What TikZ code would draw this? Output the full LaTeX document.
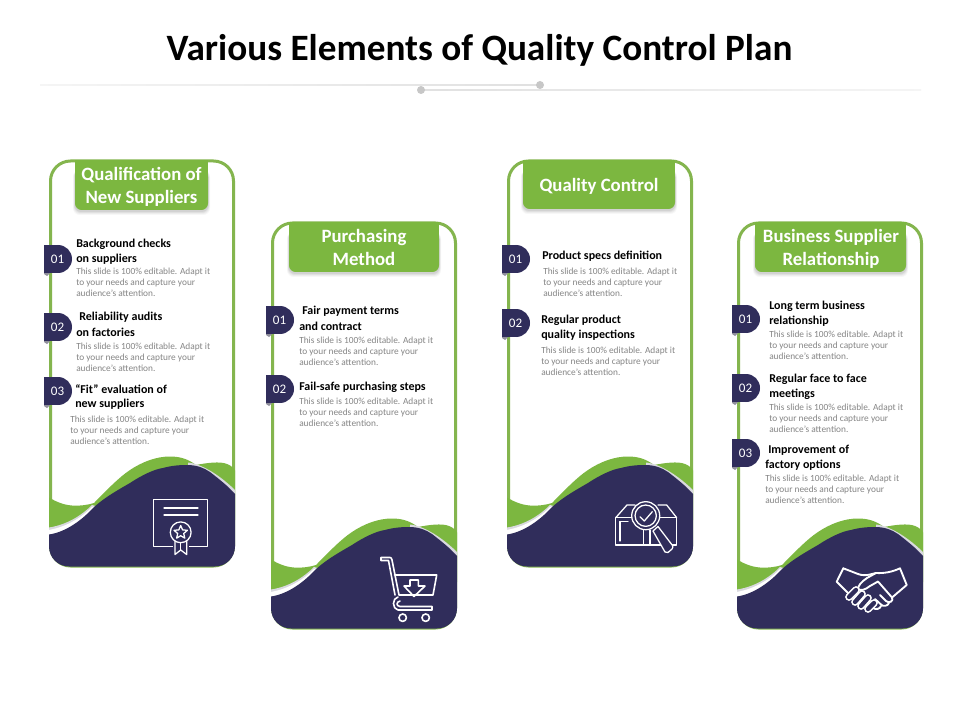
\documentclass[tikz,border=0pt]{standalone}
\usepackage{fontspec}
\setmainfont{Carlito}
\definecolor{cgreen}{HTML}{7CB740}
\definecolor{cborder}{HTML}{84B54E}
\definecolor{cnavy}{HTML}{302D5B}
\definecolor{cbody}{HTML}{858585}
\definecolor{cstripe}{HTML}{D9D9DF}
\newcounter{tn}
\tikzset{
  x=0.75pt,y=-0.75pt,
  headtext/.style={anchor=west,inner sep=0pt,font=\fontsize{9}{11}\selectfont\bfseries,text=black},
  bodytext/.style={anchor=west,inner sep=0pt,align=left,font=\fontsize{7}{8.25}\selectfont,text=cbody},
  tabtext/.style={inner sep=0pt,align=center,font=\fontsize{14.1}{17.25}\selectfont\bfseries,text=white},
  badgetext/.style={inner sep=0pt,font=\fontsize{9.8}{11}\selectfont,text=white},
  icon/.style={draw=white,line width=0.95pt,line join=round,line cap=round},
  iconfill/.style={icon,fill=cnavy},
}
\newcommand{\hdline}[3]{\stepcounter{tn}\node[headtext] (h\arabic{tn}) at (#1,#2+1) {#3};}
\newcommand{\bodyblock}[2]{\stepcounter{tn}\node[bodytext] (b\arabic{tn}) at (#1,#2+0.5) {This slide is 100\% editable. Adapt it\\to your needs and capture your\\audience's attention.};}
\newcommand{\badge}[3]{% x top label
  \stepcounter{tn}
  \fill[gray!60!cnavy!70] (#1,#2+27) -- (#1+7,#2+27) -- (#1+3,#2+31) -- (#1,#2+29) -- cycle;
  \fill[cnavy] (#1,#2) rectangle (#1+14,#2+28);
  \fill[cnavy] (#1+14,#2+14) circle [radius=10.5pt];
  \node[badgetext] (n\arabic{tn}) at (#1+13.5,#2+14) {#3};}
\newcommand{\cardshape}[2]{% dx dy
  \begin{scope}[shift={(#1,#2)}]
    \draw[cborder,line width=2.25pt,fill=white,rounded corners=15pt] (50.5,161) rectangle (233.5,566);
    \begin{scope}
      \clip[rounded corners=15pt] (49,150) rectangle (235,566.5);
      \fill[cgreen] (45,495) .. controls (54,501) and (63,505) .. (72,505.5)
        .. controls (80,506) and (88,505) .. (94,503)
        .. controls (105,492) and (118,478) .. (130,470)
        .. controls (142,462) and (156,456.5) .. (170,456.5)
        .. controls (180,456.5) and (188,459) .. (196,465)
        .. controls (206,463) and (220,461) .. (227,464)
        .. controls (231,465.5) and (234,468) .. (236,472)
        -- (236,520) -- (45,545) -- cycle;
      \fill[cstripe] (45,528) .. controls (66,526) and (82,515) .. (92,505)
        -- (96,506) -- (80,530) -- (45,540) -- cycle;
      \fill[white] (45,530.5) .. controls (66,528) and (82,517) .. (92,507)
        -- (96,506) -- (80,530) -- (45,540) -- cycle;
      \fill[cstripe] (188,462.5) .. controls (203,464) and (222,477) .. (236,491)
        -- (236,500) -- (188,470) -- cycle;
      \fill[cnavy] (45,535) -- (49,534.5) .. controls (66,532) and (82,520) .. (93,508)
        .. controls (105,497) and (118,490) .. (130,483)
        .. controls (142,475) and (155,469) .. (163,468)
        .. controls (172,465.5) and (180,465) .. (187,465)
        .. controls (197,465) and (204,468) .. (210,472)
        .. controls (219,479) and (228,486) .. (236,495)
        -- (236,570) -- (45,570) -- cycle;
    \end{scope}
  \end{scope}}
\newcommand{\tabshape}[4]{% x1 x2 y1 y2
  \foreach \g/\o in {4/0.03,3/0.04,2/0.05,1/0.06}{
    \fill[black,opacity=\o,rounded corners=5pt] (#1-\g/2,#3+10) rectangle (#2+\g/2,#4+1+\g);}
  \fill[cgreen,rounded corners=5pt] (#1,#3+10) rectangle (#2,#4);
  \fill[cgreen] (#1,#3) rectangle (#2,#3+20);
}
\begin{document}
\begin{tikzpicture}
\useasboundingbox (0,0) rectangle (960,720);
\fill[white] (0,0) rectangle (960,720);

% title
\node[inner sep=0pt,font=\fontsize{27.9}{32}\selectfont\bfseries,text=black] (title) at (479.5,50.5) {Various Elements of Quality Control Plan};
\shade[left color=black!4,right color=black!12] (40,84.6) rectangle (540,85.4);
\shade[left color=black!12,right color=black!4] (421,89.6) rectangle (921,90.4);
\fill[black!22] (540,85) circle [radius=3pt];
\fill[black!22] (421,90) circle [radius=3pt];

% cards
\cardshape{0}{0}
\cardshape{222}{62}
\cardshape{458}{0}
\cardshape{688}{62}

% tabs
\tabshape{75}{208}{160}{210}
\tabshape{289}{439}{222}{272}
\tabshape{523}{675}{160}{209}
\tabshape{755}{906}{222}{272}
\node[tabtext] (t1) at (141.5,187) {Qualification of\\New Suppliers};
\node[tabtext] (t2) at (364,247) {Purchasing\\Method};
\node[tabtext] (t3) at (599,186.5) {Quality Control};
\node[tabtext] (t4) at (831,249) {Business Supplier\\Relationship};

% card 1
\badge{44}{245}{01}\badge{44}{313}{02}\badge{44}{377}{03}
\hdline{76}{243}{Background checks}\hdline{76}{258}{on suppliers}\bodyblock{76}{282}
\hdline{79}{316}{Reliability audits}\hdline{76}{331}{on factories}\bodyblock{76}{357}
\hdline{75}{388}{“Fit” evaluation of}\hdline{75}{403}{new suppliers}\bodyblock{70}{430}
% card 2
\badge{266}{306}{01}\badge{266}{375}{02}
\hdline{302}{310}{Fair payment terms}\hdline{299}{325}{and contract}\bodyblock{299}{351}
\hdline{299}{386}{Fail-safe purchasing steps}\bodyblock{299}{412}
% card 3
\badge{502}{245}{01}\badge{502}{309}{02}
\hdline{542}{255}{Product specs definition}\bodyblock{543}{282}
\hdline{541}{319}{Regular product}\hdline{541}{334}{quality inspections}\bodyblock{541}{361}
% card 4
\badge{732}{305}{01}\badge{732}{374}{02}\badge{732}{439}{03}
\hdline{769}{305}{Long term business}\hdline{769}{320}{relationship}\bodyblock{769}{344.5}
\hdline{769}{378}{Regular face to face}\hdline{769}{393}{meetings}\bodyblock{769}{418}
\hdline{768}{449}{Improvement of}\hdline{765}{464}{factory options}\bodyblock{765}{489}

% certificate icon
\draw[icon] (153.5,499.5) rectangle (207.5,546.5);
\draw[icon] (164,508) -- (198,508);
\draw[icon] (164,515) -- (198,515);
\fill[cnavy] (173,544) rectangle (189,549);
\draw[iconfill] (175,541) -- (175,554.5) -- (180.7,550) -- (186.7,554.5) -- (186.7,541) -- cycle;
\draw[icon] (180.7,541) -- (180.7,550);
\draw[iconfill] (180.7,532.3) circle [radius=7.8pt];
\draw[icon] (180.7,525.5) -- (182.6,529.9) -- (187.4,530.3) -- (183.7,533.5) -- (184.8,538.2) -- (180.7,535.7) -- (176.6,538.2) -- (177.7,533.5) -- (174,530.3) -- (178.8,529.9) -- cycle;

% cart icon
\draw[icon,line width=1.2pt] (381,560) -- (381,557.5) -- (390,557.5) .. controls (391,557.5) and (391.5,558) .. (392,560) -- (399,595) -- (433,595) -- (436.7,575) -- (394.5,575);
\draw[icon,line width=1.2pt] (381,560.5) -- (388.5,560.5) -- (395,595);
\draw[icon,line width=1.2pt] (398,597) .. controls (392,598) and (392,609) .. (398,610) -- (432,610) -- (432,606.5) -- (400,606.5) .. controls (396,606) and (396,602) .. (400,601);
\draw[icon,line width=1.2pt] (410,580) -- (418.3,580) -- (418.3,586) -- (425,586) -- (414,596.5) -- (404,586) -- (410,586) -- cycle;
\draw[icon,line width=1.2pt] (402.7,617.7) circle [radius=2.8pt];
\draw[icon,line width=1.2pt] (425.7,617.7) circle [radius=2.8pt];

% inspection icon
\draw[icon] (615.7,517.7) rectangle (676.7,545);
\draw[icon] (615.7,517.7) -- (627,505) -- (635,505);
\draw[icon] (676.7,517.7) -- (666.7,505) -- (658,505);
\draw[icon] (620,521.5) -- (628,521.5);
\draw[icon] (620,521.5) -- (620,541);
\draw[icon] (643.5,530) -- (643.5,545);
\draw[icon] (650,530) -- (650,545);
\draw[iconfill] (645.7,515.7) circle [radius=10.5pt];
\draw[icon] (645.7,515.7) circle [radius=8pt];
\draw[icon] (640,516.7) -- (644.3,521) -- (652.3,511.7);
\draw[iconfill] (653,531) -- (658,526.5) -- (672.5,545.5) .. controls (673,547) and (673,548) .. (672,549) -- (668,552.5) .. controls (667,553) and (666,553) .. (665,552) -- cycle;

% handshake icon
\draw[icon,line width=1.4pt] (843.3,568.3) -- (836.7,581.7) -- (849,594);
\draw[icon,line width=1.4pt] (843.3,568.3) -- (858,574) .. controls (862,575.5) and (866,575.5) .. (870,574.5) -- (876,573) .. controls (884,573.5) and (892,572) .. (900,568.3) -- (906.7,585) -- (892,597.5);
\draw[icon,line width=1.4pt] (876,573) -- (867,578) .. controls (861,582) and (858,586) .. (858,589) .. controls (861,591) and (865,590) .. (870,586) -- (878,581.5) -- (892,597.5) .. controls (894,601) and (889,604) .. (886,601) -- (880,595);
\draw[icon,line width=1.4pt] (889,603) .. controls (888,606) and (883,607) .. (881,604.5) -- (875,599);
\draw[icon,line width=1.4pt] (881,606) .. controls (880,609) and (876,610) .. (873,608);
\foreach \a/\b/\c/\d in {849/597/856/590, 855/602/862/594, 861/606/868/598, 868/609/874/603}{
  \draw[white,line width=5.8pt,line cap=round] (\a,\b) -- (\c,\d);
  \draw[cnavy,line width=3.2pt,line cap=round] (\a,\b) -- (\c,\d);
}
\end{tikzpicture}
\end{document}
